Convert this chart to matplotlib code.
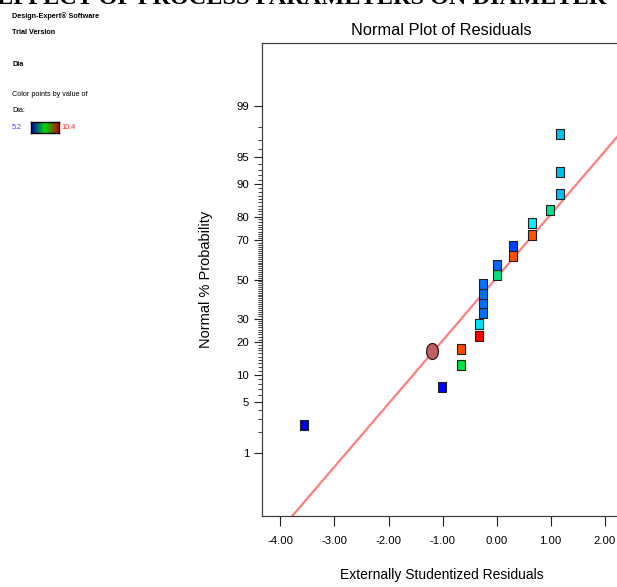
import numpy as np
import matplotlib.pyplot as plt
from matplotlib.colors import LinearSegmentedColormap
from statistics import NormalDist

plt.rcParams['font.family'] = ['Liberation Sans Narrow', 'Liberation Sans', 'DejaVu Sans']

# residuals (x) and normal % probability (y)
resid = [-3.57, -1.01, -0.66, -0.66, -0.32, -0.32, -0.26, -0.26, -0.26, -0.26,
         0.00, 0.00, 0.31, 0.31, 0.645, 0.645, 0.99, 1.18, 1.18, 1.18]
prob = [2.5, 7.5, 12.5, 17.5, 22.5, 27.5, 32.5, 37.5, 42.5, 47.5,
        52.5, 57.5, 62.5, 67.5, 72.5, 77.5, 82.5, 87.5, 92.5, 97.5]
pt_colors = ['#0000E0', '#0000FF', '#00E040', '#FF4A00', '#FF0000', '#00E0FF',
             '#0070FF', '#0070FF', '#0070FF', '#0070FF', '#00E080', '#0066FF',
             '#FF5000', '#0040FF', '#FF5000', '#00F0FF', '#00E090', '#00BFF0',
             '#00BFF0', '#00BFF0']
hl_resid = [-1.19]
hl_prob = [16.9]
line_resid = [-3.78, 2.30]
line_prob = [0.074, 97.6]

xticks = [-4, -3, -2, -1, 0, 1, 2]
xlabels = ['-4.00', '-3.00', '-2.00', '-1.00', '0.00', '1.00', '2.00']
yticks = [1, 5, 10, 20, 30, 50, 70, 80, 90, 95, 99]

nd = NormalDist()
_ppf = np.vectorize(nd.inv_cdf, otypes=[float])
_cdf = np.vectorize(nd.cdf, otypes=[float])

def fwd(p):
    p = np.clip(np.asarray(p, float) / 100.0, 1e-9, 1 - 1e-9)
    return _ppf(p)

def inv(z):
    return _cdf(np.asarray(z, float)) * 100.0

fig = plt.figure(figsize=(6.17, 5.87), dpi=100)
ax = fig.add_axes([262/617, 71/587, 359/617, 473/587])
ax.set_yscale('function', functions=(fwd, inv))

ax.plot(line_resid, line_prob, color='#FF7F7F', lw=1.6, zorder=2)

rect = [(-0.4, -0.5), (0.4, -0.5), (0.4, 0.5), (-0.4, 0.5), (-0.4, -0.5)]
for x, p, c in zip(resid, prob, pt_colors):
    ax.plot(x, p, linestyle='none', marker=rect, markersize=7.8,
            markerfacecolor=c, markeredgecolor='#202020', markeredgewidth=0.8,
            zorder=3)

t = np.linspace(0, 2 * np.pi, 40)
ell = list(zip(0.37 * np.cos(t), 0.5 * np.sin(t)))
ax.plot(hl_resid, hl_prob, linestyle='none', marker=ell, markersize=11.5,
        markerfacecolor='#C06060', markeredgecolor='#301818',
        markeredgewidth=0.9, zorder=4)

ax.set_xlim(-4.34, 2.30)
ax.set_ylim(0.074, 99.926)
ax.set_xticks(xticks)
ax.set_xticklabels(xlabels)
ax.set_yticks(yticks)
ax.set_yticklabels([str(v) for v in yticks])
ax.set_yticks([v for v in range(1, 100) if v not in yticks], minor=True)
ax.tick_params(axis='y', which='major', length=5.8, width=0.8, pad=3.5,
               labelsize=8.2, color='#202020')
ax.tick_params(axis='y', which='minor', length=2.9, width=0.6, color='#202020')
ax.tick_params(axis='x', which='major', length=7, width=0.8, pad=7.5,
               labelsize=8.2, color='#202020')
ax.tick_params(axis='x', which='minor', length=0)
for s in ax.spines.values():
    s.set_color('#404040')
    s.set_linewidth(0.9)

ax.set_title('Normal Plot of Residuals', fontsize=11.8, pad=6)
ax.set_xlabel('Externally Studentized Residuals', fontsize=10, labelpad=16)
ax.set_ylabel('Normal % Probability', fontsize=10.5, labelpad=17)

# cut-off heading at the very top
fig.text(-0.005, 1 - 4.5/587, 'EFFECT OF PROCESS PARAMETERS ON DIAMETER',
         family='Liberation Serif', weight='bold', fontsize=17.5,
         va='baseline', ha='left')

# side legend
fs = 5.2
fig.text(12/617, 1 - 16/587, 'Design-Expert® Software', fontsize=fs,
         weight='bold', va='center')
fig.text(12/617, 1 - 33/587, 'Trial Version', fontsize=fs, weight='bold',
         va='center')
fig.text(12/617, 1 - 64/587, 'Dia', fontsize=fs, weight='bold', va='center')
fig.text(12/617, 1 - 95/587, 'Color points by value of', fontsize=fs,
         va='center')
fig.text(12/617, 1 - 111/587, 'Dia:', fontsize=fs, va='center')
fig.text(12/617, 1 - 127.5/587, '5.2', fontsize=fs, color='#4040FF',
         va='center')
fig.text(61/617, 1 - 127.5/587, '10.4', fontsize=fs, color='#FF2020',
         va='center')

cax = fig.add_axes([31/617, 1 - 133/587, 28/617, 11/587])
cmap = LinearSegmentedColormap.from_list('dx', ['#0000C0', '#00E000', '#C00000'])
cax.imshow(np.linspace(0, 1, 100).reshape(1, -1), aspect='auto', cmap=cmap)
cax.set_xticks([])
cax.set_yticks([])
for s in cax.spines.values():
    s.set_linewidth(1.0)
    s.set_color('black')

fig.savefig('out.png', dpi=100)
